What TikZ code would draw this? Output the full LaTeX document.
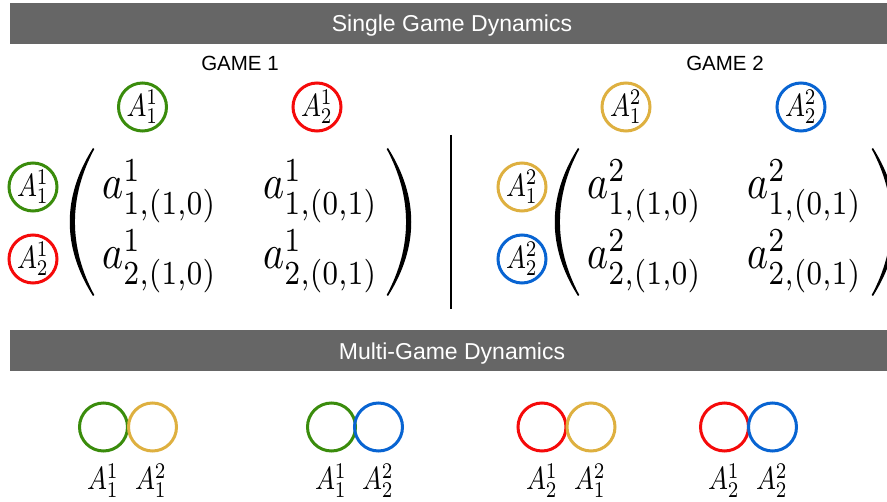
\documentclass[tikz,border=0pt]{standalone}
\usepackage[no-math]{fontspec}
\usepackage{graphicx}
\newfontfamily\hv{Liberation Sans}
\definecolor{barg}{RGB}{102,102,102}
\definecolor{cgreen}{RGB}{58,140,12}
\definecolor{cred}{RGB}{245,10,10}
\definecolor{cyellow}{RGB}{222,176,64}
\definecolor{cblue}{RGB}{8,100,210}
\newcommand\ringtxt[1]{\scalebox{2.65}[3.2]{$#1$}}
\newcommand\entrytxt[1]{\scalebox{4.0}[4.8]{$#1$}}
\begin{document}
\begin{tikzpicture}[x=1pt,y=-1pt,
 bar/.style={fill=barg, draw=none},
 bartext/.style={text=white, font=\hv\fontsize{23}{26}\selectfont, anchor=base, inner sep=0pt},
 gametext/.style={font=\hv\fontsize{20.5}{24}\selectfont, anchor=base, inner sep=0pt},
 ring/.style={circle, draw=#1, line width=3pt, minimum size=48pt, inner sep=0pt},
 entry/.style={anchor=base west, inner sep=0pt},
 lab/.style={anchor=base, inner sep=0pt},
 lpar/.pic={\fill (0,0) .. controls (-31,49) and (-31,99) .. (0,148) -- (1.3,147) .. controls (-24.5,99) and (-24.5,49) .. (1.3,1) -- cycle;}
]
\useasboundingbox (0,0) rectangle (887,502);
\clip (0,0) rectangle (887,502);
% bars
\fill[bar] (10,3) rectangle (887,44);
\node[bartext] (t1) at (452,32) {Single Game Dynamics};
\fill[bar] (10,330) rectangle (887,371);
\node[bartext] (t2) at (452,359.5) {Multi-Game Dynamics};
% game titles
\node[gametext] (g1) at (240,71) {GAME 1};
\node[gametext] (g2) at (725,71) {GAME 2};
% top rings
\node[ring=cgreen] (c11) at (142.5,107) {\ringtxt{A_1^1}};
\node[ring=cred] (c12) at (317,107) {\ringtxt{A_2^1}};
\node[ring=cyellow] (c21) at (626,107) {\ringtxt{A_1^2}};
\node[ring=cblue] (c22) at (801,107) {\ringtxt{A_2^2}};
% row rings
\node[ring=cgreen] (r11) at (33,187) {\ringtxt{A_1^1}};
\node[ring=cred] (r12) at (33,259) {\ringtxt{A_2^1}};
\node[ring=cyellow] (r21) at (522,187) {\ringtxt{A_1^2}};
\node[ring=cblue] (r22) at (522,259) {\ringtxt{A_2^2}};
% game 1 matrix
\pic at (93,148) {lpar};
\pic[xscale=-1] at (388,148) {lpar};
\node[entry] (m111) at (102,199) {\entrytxt{a^1_{1,(1,0)}}};
\node[entry] (m112) at (263,199) {\entrytxt{a^1_{1,(0,1)}}};
\node[entry] (m121) at (102,269) {\entrytxt{a^1_{2,(1,0)}}};
\node[entry] (m122) at (263,269) {\entrytxt{a^1_{2,(0,1)}}};
% separator
\coordinate (s1) at (451,135);
\coordinate (s2) at (451,309);
\draw[line width=1.6pt] (s1) -- (s2);
% game 2 matrix
\pic at (578,148) {lpar};
\pic[xscale=-1] at (873,148) {lpar};
\node[entry] (m211) at (587,199) {\entrytxt{a^2_{1,(1,0)}}};
\node[entry] (m212) at (747,199) {\entrytxt{a^2_{1,(0,1)}}};
\node[entry] (m221) at (587,269) {\entrytxt{a^2_{2,(1,0)}}};
\node[entry] (m222) at (747,269) {\entrytxt{a^2_{2,(0,1)}}};
% multi-game pairs
\node[ring=cgreen] (p1a) at (103.5,427) {};
\node[ring=cyellow] (p1b) at (152.5,427) {};
\node[ring=cgreen] (p2a) at (331.5,427) {};
\node[ring=cblue] (p2b) at (378.5,427) {};
\node[ring=cred] (p3a) at (542,427) {};
\node[ring=cyellow] (p3b) at (591,427) {};
\node[ring=cred] (p4a) at (724.5,427) {};
\node[ring=cblue] (p4b) at (772.5,427) {};
\node[lab] (l1a) at (103,490) {\ringtxt{A_1^1}};
\node[lab] (l1b) at (151,490) {\ringtxt{A_1^2}};
\node[lab] (l2a) at (331,490) {\ringtxt{A_1^1}};
\node[lab] (l2b) at (378,490) {\ringtxt{A_2^2}};
\node[lab] (l3a) at (542,490) {\ringtxt{A_2^1}};
\node[lab] (l3b) at (590,490) {\ringtxt{A_1^2}};
\node[lab] (l4a) at (724,490) {\ringtxt{A_2^1}};
\node[lab] (l4b) at (772,490) {\ringtxt{A_2^2}};
\end{tikzpicture}
\end{document}
